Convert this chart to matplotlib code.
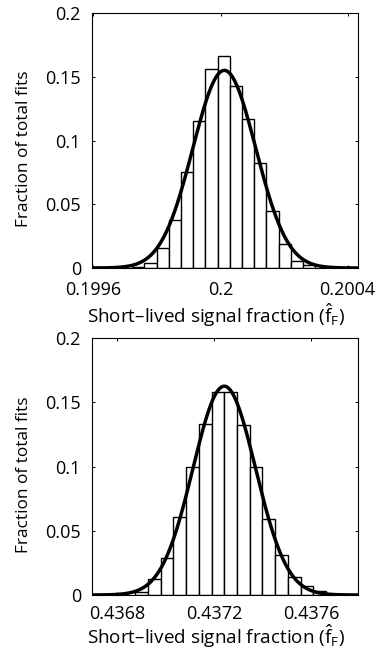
import numpy as np
import matplotlib
matplotlib.use("Agg")
import matplotlib.pyplot as plt

plt.rcParams['font.family'] = ['Open Sans', 'DejaVu Sans']
plt.rcParams['mathtext.fontset'] = 'custom'
plt.rcParams['mathtext.rm'] = 'Open Sans'
plt.rcParams['mathtext.it'] = 'Open Sans'

# ---- data: top panel ----
top_bin_width = 3.84e-5
top_bin_lefts = 0.199991 + top_bin_width * np.arange(-7, 8)
top_heights = [0.001, 0.0042, 0.016, 0.0375, 0.075, 0.115, 0.156, 0.166,
               0.143, 0.117, 0.082, 0.045, 0.019, 0.0058, 0.002]
top_fit_mean = 0.200012
top_fit_sigma = 9.9e-5
top_fit_peak = 0.155
top_xticks = [0.1996, 0.2, 0.2004]
top_xticklabels = ["0.1996", "0.2", "0.2004"]
top_xlim = (0.1995953, 0.200433)

# ---- data: bottom panel ----
bot_bin_width = 5.24e-5
bot_bin_lefts = 0.4372428 + bot_bin_width * np.arange(-7, 8)
bot_heights = [0.002, 0.0125, 0.0288, 0.0608, 0.0995, 0.133, 0.158, 0.158,
               0.132, 0.0995, 0.0595, 0.031, 0.0137, 0.0068, 0.003]
bot_fit_mean = 0.4372428
bot_fit_sigma = 1.288e-4
bot_fit_peak = 0.1625
bot_xticks = [0.4368, 0.4372, 0.4376]
bot_xticklabels = ["0.4368", "0.4372", "0.4376"]
bot_xlim = (0.43669835, 0.4377934)

yticks = [0, 0.05, 0.1, 0.15, 0.2]
yticklabels = ["0", "0.05", "0.1", "0.15", "0.2"]
xlabel = "Short\u2013lived signal fraction ($\\hat{\\mathrm{f}}_\\mathrm{F}$)"
ylabel = "Fraction of total fits"

fig = plt.figure(figsize=(3.78, 6.52), dpi=100)
ax1 = fig.add_axes([92/378, 1-268/652, 266/378, 255/652])
ax2 = fig.add_axes([92/378, 1-595/652, 266/378, 257/652])

def draw(ax, lefts, heights, width, mean, sigma, peak, xlim, xticks,
         xticklabels, xlabel_y, xpad):
    ax.bar(lefts, heights, width=width, align='edge', facecolor='white',
           edgecolor='black', linewidth=1.0, zorder=2)
    xs = np.linspace(xlim[0], xlim[1], 600)
    ax.plot(xs, peak * np.exp(-0.5 * ((xs - mean) / sigma) ** 2),
            color='black', linewidth=2.5, zorder=3, solid_capstyle='butt')
    ax.set_xlim(*xlim)
    ax.set_ylim(0, 0.2)
    ax.set_xticks(xticks)
    ax.set_xticklabels(xticklabels)
    ax.set_yticks(yticks)
    ax.set_yticklabels(yticklabels)
    ax.tick_params(direction='in', length=2.5, width=0.7, labelsize=13,
                   top=True, right=True)
    ax.tick_params(axis='x', pad=xpad)
    ax.tick_params(axis='y', pad=8)
    for s in ax.spines.values():
        s.set_linewidth(0.8)
    ax.set_xlabel(xlabel, fontsize=13.6, va='top')
    ax.xaxis.set_label_coords(0.466, xlabel_y)
    ax.set_ylabel(ylabel, fontsize=12.4)
    ax.yaxis.set_label_coords(-0.2256, 0.467)

draw(ax1, top_bin_lefts, top_heights, top_bin_width,
     top_fit_mean, top_fit_sigma, top_fit_peak, top_xlim, top_xticks,
     top_xticklabels, -0.133, 9)
draw(ax2, bot_bin_lefts, bot_heights, bot_bin_width,
     bot_fit_mean, bot_fit_sigma, bot_fit_peak, bot_xlim, bot_xticks,
     bot_xticklabels, -0.109, 7)

fig.savefig("out.png", dpi=100)
